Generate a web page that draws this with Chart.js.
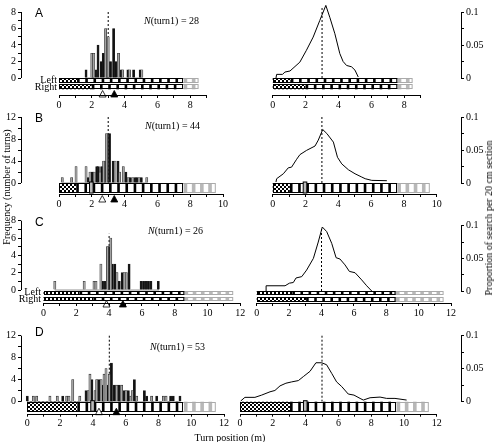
<!DOCTYPE html>
<html>
<head>
<meta charset="utf-8">
<script src="https://cdn.jsdelivr.net/npm/chart.js@4.4.1/dist/chart.umd.min.js"></script>
<style>
  body{margin:0;background:#fff;}
  #fig{position:relative;width:495px;height:442px;overflow:hidden;font-family:"Liberation Serif",serif;font-size:10px;color:#000;}
  #fig canvas{position:absolute;left:0;top:0;}
  .t{position:absolute;white-space:nowrap;line-height:1;}
  .lab{font-family:"Liberation Sans",Arial,sans-serif;font-size:12px;}
  .rot{transform:translate(-50%,-50%) rotate(-90deg);}
</style>
</head>
<body>
<div id="fig">
  <canvas id="aL" width="495" height="442"></canvas>
  <canvas id="aR" width="495" height="442"></canvas>
  <canvas id="bL" width="495" height="442"></canvas>
  <canvas id="bR" width="495" height="442"></canvas>
  <canvas id="cL" width="495" height="442"></canvas>
  <canvas id="cR" width="495" height="442"></canvas>
  <canvas id="dL" width="495" height="442"></canvas>
  <canvas id="dR" width="495" height="442"></canvas>

  <div class="t lab" style="left:35px;top:7px">A</div>
  <div class="t" style="left:144px;top:16px"><i>N</i>(turn1) = 28</div>
  <div class="t lab" style="left:35px;top:112px">B</div>
  <div class="t" style="left:145px;top:121px"><i>N</i>(turn1) = 44</div>
  <div class="t lab" style="left:35px;top:216px">C</div>
  <div class="t" style="left:148px;top:226px"><i>N</i>(turn1) = 26</div>
  <div class="t lab" style="left:35px;top:326px">D</div>
  <div class="t" style="left:150px;top:342px"><i>N</i>(turn1) = 53</div>

  <div class="t" style="right:438px;top:75px">Left</div>
  <div class="t" style="right:438px;top:82px">Right</div>
  <div class="t" style="right:454px;top:287px">Left</div>
  <div class="t" style="right:454px;top:294px">Right</div>

  <div class="t rot" style="left:7px;top:187px">Frequency (number of turns)</div>
  <div class="t rot" style="left:489px;top:218px">Proportion of search per 20 cm section</div>
  <div class="t" style="left:230px;top:433px;transform:translateX(-50%)">Turn position (m)</div>
</div>

<script>
// Turns per position [m, count]: gray = left turns, black = right turns
const grayA  = [[2.0,3],[2.12,3],[2.84,6],[3.0,5],[3.63,3],[3.88,1],[4.3,1],[5.05,1]];
const blackA = [[1.65,1],[2.06,1],[2.25,1],[2.38,4],[2.57,2],[2.7,3],[2.93,4],[3.14,2],[3.33,6],[3.46,2],[3.8,1],[4.2,1],[4.55,1],[4.95,1]];
const grayB  = [[0.2,1],[0.77,1],[1.04,3],[1.65,3],[1.89,2],[2.15,2],[2.5,2],[2.72,4],[2.9,9],[3.42,4],[3.7,2],[3.92,3],[4.22,1],[4.5,1],[4.88,1],[5.35,1]];
const blackB = [[1.79,1],[1.99,2],[2.07,2],[2.3,3],[2.4,3],[2.6,3],[2.8,4],[3.08,9],[3.3,4],[3.6,4],[4.08,2],[4.35,1],[4.65,1],[4.75,1],[5.02,1]];
const grayC  = [[0.69,1],[2.48,1],[3.08,1],[3.2,1],[3.5,3],[3.9,5],[4.1,6],[4.48,2],[4.92,2],[5.05,2]];
const blackC = [[3.6,1],[3.75,1],[4.0,5],[4.2,3],[4.35,3],[4.62,1],[4.8,2],[5.22,3],[5.95,1],[6.1,1],[6.25,1],[6.4,1],[6.55,1],[7.0,1]];
const grayD  = [[0.37,1],[0.57,1],[1.38,1],[1.83,1],[2.4,1],[2.54,1],[2.77,4],[3.2,1],[3.72,2],[3.82,5],[4.13,2],[4.23,4],[4.5,4],[4.68,5],[4.8,6],[5.0,5],[5.45,3],[5.75,3],[6.02,2],[6.3,1],[6.4,2],[6.67,1],[7.58,1],[8.3,1],[8.46,1]];
const blackD = [[0.0,1],[2.16,1],[3.58,2],[3.94,4],[4.37,4],[4.6,3],[4.9,3],[5.13,7],[5.31,3],[5.59,3],[5.9,2],[6.16,2],[6.53,4],[7.14,2],[7.28,1],[7.89,1],[8.74,1],[8.9,1],[9.31,1]];

// zero line extent under each histogram [from, to] (m)
const baseA = [1.6, 5.1], baseB = [0.2, 5.4], baseC = [0.69, 7.05], baseD = [0.0, 9.35];

// Proportion of search per 20 cm section [m, proportion]
const searchA = [[0.2,0],[0.24,0.0055],[0.6,0.0055],[0.74,0.009],[1.05,0.0106],[1.65,0.024],[2.05,0.042],[2.46,0.062],[2.86,0.087],[3.23,0.11],[3.47,0.092],[3.78,0.067],[4.08,0.037],[4.28,0.025],[4.49,0.019],[4.79,0.017],[5.0,0.012],[5.2,0.0015]];
const searchB = [[0.2,0.0015],[0.24,0.0065],[0.65,0.014],[0.95,0.023],[1.15,0.024],[1.46,0.036],[1.66,0.043],[2.07,0.0495],[2.58,0.056],[2.78,0.065],[3.05,0.081],[3.3,0.075],[3.7,0.062],[3.95,0.039],[4.21,0.029],[4.62,0.02],[5.02,0.014],[5.43,0.009],[5.64,0.0065],[6.04,0.004],[6.96,0.0035]];
const searchC = [[0.58,0],[0.58,0.008],[1.75,0.008],[2.02,0.012],[2.26,0.013],[2.43,0.02],[2.78,0.022],[3.08,0.032],[3.5,0.05],[3.8,0.075],[4.05,0.098],[4.32,0.091],[4.63,0.073],[4.9,0.051],[5.14,0.049],[5.45,0.04],[5.72,0.03],[6.07,0.028],[6.48,0.017],[6.79,0.008],[7.1,0]];
const searchD = [[0.04,0.001],[0.3,0.0066],[0.91,0.0066],[1.32,0.01],[1.83,0.015],[2.13,0.017],[2.44,0.024],[2.8,0.028],[3.15,0.03],[3.56,0.032],[3.86,0.038],[4.27,0.046],[4.63,0.059],[4.98,0.059],[5.28,0.056],[5.59,0.043],[5.89,0.03],[6.2,0.023],[6.6,0.0116],[6.95,0.01],[7.32,0.005],[7.52,0.0025],[7.93,0.006],[8.54,0.007],[8.94,0.005],[9.45,0.005],[10.16,0.0025]];

// dotted line position (m) and top of it for left / right panels
const peakA = 3, peakB = 3, peakC = 4, peakD = 5;
const dashTop = {aL: 8, aR: 0.107, bL: 12, bR: 0.1, cL: 6.5, cR: 0.098, dL: 12, dR: 0.1};

// mean positions: open and filled triangles (m)
const openMarks = [2.66, 2.64, 3.84, 4.37];
const filledMarks = [3.37, 3.37, 4.84, 5.43];

// tunnel strips [stipple end, black/white end, grey end] (m), and object positions
const stripsA = [[1.1, 7.5, 8.45], [2.0, 7.5, 8.45]];
const stripsB = [[1.05, 7.5, 9.5]];
const stripsC = [[2.2, 8.5, 11.5], [3.05, 8.5, 11.5]];
const stripsD = [[3.05, 9.45, 11.45]];
const objectB = [1.97], objectD = [3.98];

// tick labels
const posLabels = [0, 2, 4, 6, 8, 10, 12];
const freqLabels8 = [0, 2, 4, 6, 8];
const freqLabels12 = [0, 4, 8, 12];
const propLabels = [0, 0.05, 0.1];

const stipple = (() => {
  const c = document.createElement('canvas');
  c.width = 4; c.height = 4;
  const g = c.getContext('2d');
  g.fillStyle = '#000'; g.fillRect(0, 0, 4, 4);
  g.fillStyle = '#fff'; g.fillRect(0, 0, 2, 2); g.fillRect(2, 2, 2, 2);
  return g.createPattern(c, 'repeat');
})();

function tri(ctx, x, y, filled) {
  ctx.beginPath();
  ctx.moveTo(x, y - 3.5); ctx.lineTo(x + 3.5, y + 3); ctx.lineTo(x - 3.5, y + 3); ctx.closePath();
  ctx.fillStyle = filled ? '#000' : '#fff';
  ctx.fill();
  ctx.strokeStyle = '#000'; ctx.lineWidth = 0.8; ctx.stroke();
}

const stripPlugin = {
  id: 'strips',
  afterDraw(chart, args, o) {
    const {ctx, chartArea} = chart;
    const x = chart.scales.x, y = chart.scales.y;
    const px = v => x.getPixelForValue(v);
    const y0 = y.getPixelForValue(0);
    ctx.save();
    o.strips.forEach((s, i) => {
      const top = y0 + o.bands[i][0], h = o.bands[i][1] - o.bands[i][0];
      ctx.fillStyle = stipple;
      ctx.fillRect(px(0), top, px(s[0]) - px(0), h);
      ctx.fillStyle = '#fff';
      ctx.fillRect(px(s[0]), top, px(s[2]) - px(s[0]), h);
      ctx.fillStyle = '#000';
      for (let v = s[0]; v < s[1] - 0.05; v += 0.5) ctx.fillRect(px(v), top, px(Math.min(v + 0.16, s[1])) - px(v), h);
      ctx.fillStyle = '#b8b8b8';
      for (let v = s[1] + 0.1; v < s[2] - 0.05; v += 0.5) ctx.fillRect(px(v), top, px(Math.min(v + 0.22, s[2])) - px(v), h);
      ctx.lineWidth = 1;
      ctx.strokeStyle = '#aaa';
      ctx.strokeRect(Math.round(px(s[1])) + 0.5, Math.round(top) + 0.5, px(s[2]) - px(s[1]), Math.round(h) - 1);
      ctx.strokeStyle = '#000';
      ctx.strokeRect(Math.round(px(0)) + 0.5, Math.round(top) + 0.5, px(s[1]) - px(0), Math.round(h) - 1);
    });
    (o.objects || []).forEach(v => {
      const top = y0 + o.bands[0][0] - 1, h = o.bands[0][1] - o.bands[0][0] + 1;
      ctx.fillStyle = '#bbb';
      ctx.fillRect(px(v - 0.11), top, px(v + 0.11) - px(v - 0.11), h);
      ctx.strokeStyle = '#000'; ctx.lineWidth = 1;
      ctx.strokeRect(px(v - 0.11), top, px(v + 0.11) - px(v - 0.11), h);
    });
    if (o.marks) {
      tri(ctx, px(o.marks[0]), y0 + o.markY, false);
      tri(ctx, px(o.marks[1]), y0 + o.markY, true);
    }
    // axis lines, only over the data range
    ctx.strokeStyle = '#000'; ctx.lineWidth = 1;
    ctx.beginPath();
    const by = Math.round(chartArea.bottom) + 0.5;
    ctx.moveTo(px(0), by); ctx.lineTo(px(o.xEnd), by);
    const ax = Math.round(o.side === 'left' ? chartArea.left : chartArea.right) + 0.5;
    ctx.moveTo(ax, y.getPixelForValue(0)); ctx.lineTo(ax, y.getPixelForValue(y.max));
    ctx.stroke();
    ctx.restore();
  }
};

const font = {family: 'Liberation Serif', size: 10};
const pts = a => a.map(p => ({x: p[0], y: p[1]}));

function panel(id, g, datasets, extra) {
  const left = g.side === 'left';
  const L = left ? g.L : g.x0;
  const R = left ? g.x0 + g.xEnd * g.ppm : g.R;
  const xmin = (L - g.x0) / g.ppm, xmax = (R - g.x0) / g.ppm;
  const ymin = -(g.B - g.zero) * g.ymax / (g.zero - g.T);
  const W = left ? 16 : 30, H = 14;
  const xTicks = [], yTicks = [];
  for (let v = 0; v <= g.xEnd + 1e-9; v += 1) xTicks.push(v);
  for (let k = 0; k <= g.ymax / g.yStep + 1e-9; k++) yTicks.push(+(k * g.yStep).toFixed(4));
  datasets.push({
    type: 'line', data: [{x: g.peak, y: 0}, {x: g.peak, y: g.dash}],
    borderColor: '#000', borderWidth: 1, borderDash: [2, 2], pointRadius: 0, clip: false
  });
  return new Chart(document.getElementById(id), {
    type: left ? 'bar' : 'line',
    data: {datasets},
    plugins: [stripPlugin],
    options: {
      responsive: false, animation: false, events: [],
      layout: {padding: {
        left: left ? L - W : L, right: left ? 495 - R : 495 - R - W,
        top: g.T, bottom: 442 - g.B - H
      }},
      plugins: {
        legend: {display: false}, tooltip: {enabled: false},
        strips: Object.assign({side: g.side, xEnd: g.xEnd}, extra)
      },
      scales: {
        x: {
          type: 'linear', min: xmin, max: xmax, offset: false,
          afterBuildTicks: s => { s.ticks = xTicks.map(v => ({value: v})); },
          afterFit: s => { s.height = H; s.paddingLeft = 0; s.paddingRight = 0; },
          grid: {drawOnChartArea: false, drawTicks: true, tickLength: 3, color: '#000', offset: false},
          border: {display: false},
          ticks: {autoSkip: false, maxRotation: 0, padding: 1, color: '#000', font,
                  callback: v => posLabels.includes(v) ? String(v) : ''}
        },
        y: {
          type: 'linear', position: g.side, min: ymin, max: g.ymax,
          afterBuildTicks: s => { s.ticks = yTicks.map(v => ({value: v})); },
          afterFit: s => { s.width = W; },
          grid: {drawOnChartArea: false, drawTicks: true, tickLength: 3, color: '#000'},
          border: {display: false},
          ticks: {autoSkip: false, padding: 2, color: '#000', font,
                  callback: v => g.labels.includes(v) ? String(v) : ''}
        }
      }
    }
  });
}

function histo(gray, black, base) {
  const bar = (d, c) => ({
    type: 'bar', data: pts(d), backgroundColor: c, borderColor: '#222', borderWidth: 0.6,
    barThickness: 2.2, grouped: false, clip: false
  });
  return [
    bar(gray, '#a3a3a3'), bar(black, '#111'),
    {type: 'line', data: [{x: base[0], y: 0}, {x: base[1], y: 0}], borderColor: '#777',
     borderWidth: 0.8, pointRadius: 0, clip: false}
  ];
}
function curve(d) {
  return [{type: 'line', data: pts(d), borderColor: '#000', borderWidth: 1, pointRadius: 0,
           tension: 0, fill: false, clip: false}];
}

// A
panel('aL', {side: 'left', L: 21, x0: 59, ppm: 16.4, xEnd: 9, T: 12, zero: 78, B: 95, ymax: 8, yStep: 1,
  labels: freqLabels8, peak: peakA, dash: dashTop.aL}, histo(grayA, blackA, baseA),
  {strips: stripsA, bands: [[0, 4.5], [6, 11.3]], marks: [openMarks[0], filledMarks[0]], markY: 16});
panel('aR', {side: 'right', R: 461, x0: 272.7, ppm: 16.45, xEnd: 9, T: 12, zero: 78, B: 95, ymax: 0.1, yStep: 0.025,
  labels: propLabels, peak: peakA, dash: dashTop.aR}, curve(searchA),
  {strips: stripsA, bands: [[0, 4.5], [6, 11.3]]});
// B
panel('bL', {side: 'left', L: 21, x0: 59, ppm: 16.4, xEnd: 10, T: 117, zero: 183, B: 194, ymax: 12, yStep: 2,
  labels: freqLabels12, peak: peakB, dash: dashTop.bL}, histo(grayB, blackB, baseB),
  {strips: stripsB, bands: [[0, 10]], objects: objectB, marks: [openMarks[1], filledMarks[1]], markY: 16});
panel('bR', {side: 'right', R: 461, x0: 272.7, ppm: 16.4, xEnd: 10, T: 117, zero: 183, B: 194, ymax: 0.1, yStep: 0.025,
  labels: propLabels, peak: peakB, dash: dashTop.bR}, curve(searchB),
  {strips: stripsB, bands: [[0, 10]], objects: objectB});
// C
panel('cL', {side: 'left', L: 21, x0: 43.5, ppm: 16.4, xEnd: 12, T: 220.7, zero: 290, B: 303, ymax: 8, yStep: 1,
  labels: freqLabels8, peak: peakC, dash: dashTop.cL}, histo(grayC, blackC, baseC),
  {strips: stripsC, bands: [[1, 4.5], [7, 11]], marks: [openMarks[2], filledMarks[2]], markY: 14});
panel('cR', {side: 'right', R: 461, x0: 256.7, ppm: 16.2, xEnd: 12, T: 225.7, zero: 291, B: 303, ymax: 0.1, yStep: 0.025,
  labels: propLabels, peak: peakC, dash: dashTop.cR}, curve(searchC),
  {strips: stripsC, bands: [[0, 4], [6, 10.5]]});
// D
panel('dL', {side: 'left', L: 21, x0: 27.3, ppm: 16.4, xEnd: 12, T: 335.7, zero: 401.7, B: 413.7, ymax: 12, yStep: 2,
  labels: freqLabels12, peak: peakD, dash: dashTop.dL}, histo(grayD, blackD, baseD),
  {strips: stripsD, bands: [[0, 9.5]], objects: objectD, marks: [openMarks[3], filledMarks[3]], markY: 10});
panel('dR', {side: 'right', R: 461, x0: 240, ppm: 16.4, xEnd: 12, T: 335.7, zero: 401.7, B: 413.7, ymax: 0.1, yStep: 0.025,
  labels: propLabels, peak: peakD, dash: dashTop.dR}, curve(searchD),
  {strips: stripsD, bands: [[0, 9.5]], objects: objectD});
</script>
</body>
</html>
